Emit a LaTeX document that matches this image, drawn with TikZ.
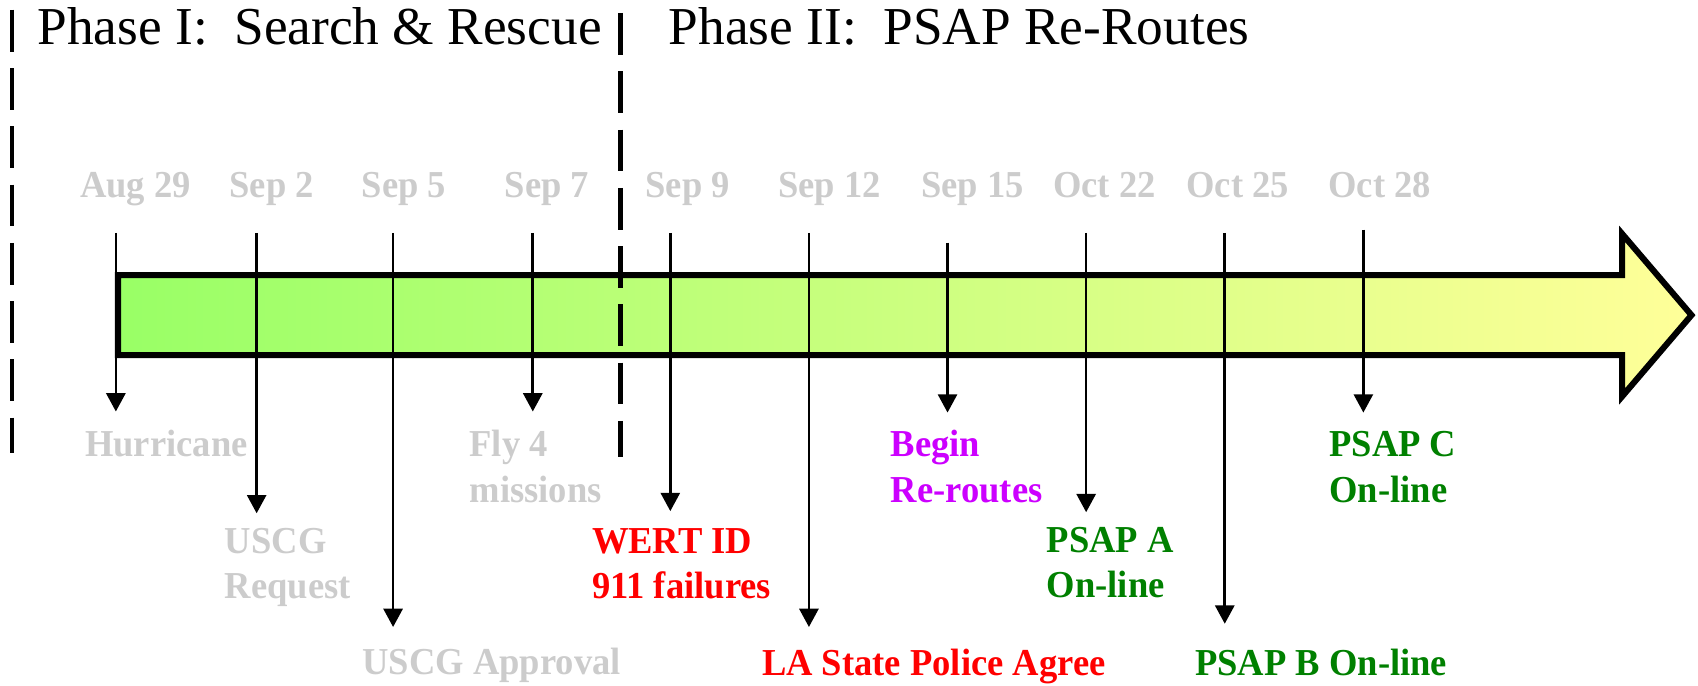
\documentclass[tikz,border=0pt]{standalone}
\usepackage{fontspec}
\setmainfont{Liberation Serif}
\newfontfamily\eventfont{Liberation Serif}[FakeStretch=0.96]
\usetikzlibrary{arrows.meta}
\definecolor{dategray}{RGB}{204,204,204}
\definecolor{failred}{RGB}{255,0,0}
\definecolor{reroute}{RGB}{204,0,255}
\definecolor{online}{RGB}{0,128,0}
\definecolor{startgreen}{RGB}{153,255,102}
\definecolor{endyellow}{RGB}{255,255,153}

\begin{document}
\begin{tikzpicture}[x=0.01cm,y=-0.01cm,
  >={Triangle[length=4.8pt,width=5pt]},
  date/.style={font=\eventfont\fontsize{10}{11.95}\selectfont\bfseries, text=dategray, anchor=base, inner sep=0pt},
  event/.style={font=\eventfont\fontsize{10}{11.95}\selectfont\bfseries, anchor=base west, align=left, inner sep=0pt},
  phase/.style={font=\fontsize{14}{16}\selectfont, anchor=base west, inner sep=0pt},
  divider/.style={line width=1.2pt, dash pattern=on 11pt off 4.3pt},
  tick/.style={line width=0.7pt,->}]
\useasboundingbox (0,0) rectangle (1568,633);

% time arrow
\shadedraw[left color=startgreen, right color=endyellow, line width=1.6pt]
  (109,254) -- (1498,254) -- (1498,216) -- (1562,291) -- (1498,366) -- (1498,328) -- (109,328) -- cycle;

% phases
\coordinate (top1) at (11,9);
\coordinate (bot1) at (11,418);
\coordinate (top2) at (573,12);
\coordinate (bot2) at (573,422);
\path[draw,divider] (top1) -- (bot1);
\path[draw,divider] (top2) -- (bot2);
\node[phase] (p1) at (34,41) {Phase I:\ \ Search \& Rescue};
\node[phase] (p2) at (617,41) {Phase II:\ \ PSAP Re-Routes};

% dates
\node[date] (d1) at (125,182) {Aug 29};
\node[date] (d2) at (251,182) {Sep 2};
\node[date] (d3) at (373,182) {Sep 5};
\node[date] (d4) at (505,182) {Sep 7};
\node[date] (d5) at (635,182) {Sep 9};
\node[date] (d6) at (766,182) {Sep 12};
\node[date] (d7) at (898,182) {Sep 15};
\node[date] (d8) at (1020,182) {Oct 22};
\node[date] (d9) at (1143,182) {Oct 25};
\node[date] (d10) at (1274,182) {Oct 28};

% ticks
\coordinate (t1) at (107,215);  \coordinate (e1) at (107,380);
\coordinate (t2) at (237,215);  \coordinate (e2) at (237,474);
\coordinate (t3) at (363,215);  \coordinate (e3) at (363,579);
\coordinate (t4) at (492,215);  \coordinate (e4) at (492,380);
\coordinate (t5) at (619,215);  \coordinate (e5) at (619,472);
\coordinate (t6) at (747,215);  \coordinate (e6) at (747,579);
\coordinate (t7) at (875,224);  \coordinate (e7) at (875,381);
\coordinate (t8) at (1003,215); \coordinate (e8) at (1003,473);
\coordinate (t9) at (1131,215); \coordinate (e9) at (1131,576);
\coordinate (t10) at (1259,212); \coordinate (e10) at (1259,381);
\path[draw,tick] (t1) -- (e1);
\path[draw,tick] (t2) -- (e2);
\path[draw,tick] (t3) -- (e3);
\path[draw,tick] (t4) -- (e4);
\path[draw,tick] (t5) -- (e5);
\path[draw,tick] (t6) -- (e6);
\path[draw,tick] (t7) -- (e7);
\path[draw,tick] (t8) -- (e8);
\path[draw,tick] (t9) -- (e9);
\path[draw,tick] (t10) -- (e10);

% events (two-line nodes sit on their last line)
\node[event, text=dategray] (l1) at (78,422) {Hurricane};
\node[event, text=dategray] (l2) at (207,553) {USCG\\Request};
\node[event, text=dategray] (l3) at (334,623) {USCG Approval};
\node[event, text=dategray] (l4) at (433,464) {Fly 4\\missions};
\node[event, text=failred] (l5) at (546,553) {WERT ID\\911 failures};
\node[event, text=failred] (l6) at (703,624) {LA State Police Agree};
\node[event, text=reroute] (l7) at (822,464) {Begin\\Re-routes};
\node[event, text=online] (l8) at (966,552) {PSAP A\\On-line};
\node[event, text=online] (l9) at (1103,624) {PSAP B On-line};
\node[event, text=online] (l10) at (1227,464) {PSAP C\\On-line};
\end{tikzpicture}
\end{document}
